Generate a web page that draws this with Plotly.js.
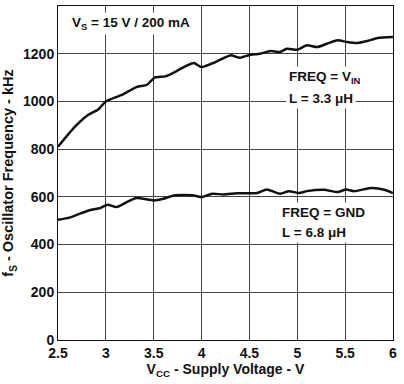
<!DOCTYPE html>
<html>
<head>
<script src="https://cdn.plot.ly/plotly-3.0.1.min.js"></script>
<style>html,body{margin:0;padding:0;background:#fff;}#chart{width:404px;height:384px;}</style>
</head>
<body>
<div id="chart"></div>
<script>
// FREQ = VIN, L = 3.3 uH
var vinX = [2.5, 2.675, 2.81, 2.92, 3.0, 3.16, 3.32, 3.43, 3.51, 3.62, 3.72, 3.85, 3.92, 4.0, 4.12, 4.30, 4.40, 4.51, 4.61, 4.72, 4.82, 4.89, 5.0, 5.10, 5.21, 5.31, 5.42, 5.52, 5.63, 5.73, 5.84, 6.0];
var vinY = [810, 893, 942, 966, 1000, 1026, 1060, 1070, 1100, 1105, 1123, 1151, 1161, 1144, 1161, 1193, 1183, 1196, 1200, 1211, 1207, 1221, 1217, 1235, 1228, 1242, 1256, 1249, 1245, 1253, 1266, 1270];
// FREQ = GND, L = 6.8 uH
var gndX = [2.5, 2.62, 2.73, 2.85, 2.94, 3.02, 3.11, 3.22, 3.32, 3.50, 3.60, 3.71, 3.92, 4.0, 4.11, 4.23, 4.37, 4.58, 4.68, 4.82, 4.91, 5.02, 5.10, 5.28, 5.42, 5.51, 5.59, 5.77, 5.91, 6.0];
var gndY = [504, 513, 530, 546, 553, 567, 557, 578, 595, 585, 592, 606, 606, 599, 613, 610, 615, 616, 631, 613, 624, 616, 624, 630, 620, 631, 624, 637, 630, 616];
var xTicks = [2.5, 3, 3.5, 4, 4.5, 5, 5.5, 6];
var xTickText = ['2.5', '3', '3.5', '4', '4.5', '5', '5.5', '6'];
var yTicks = [0, 200, 400, 600, 800, 1000, 1200, 1400];

var F = 'Liberation Sans, Arial, sans-serif';
var traces = [
  {x: vinX, y: vinY, mode: 'lines', line: {color: '#111', width: 2.5, shape: 'spline', smoothing: 0.6}, hoverinfo: 'none'},
  {x: gndX, y: gndY, mode: 'lines', line: {color: '#111', width: 2.5, shape: 'spline', smoothing: 0.6}, hoverinfo: 'none'}
];
function ann(x, y, t) {
  return {x: x, y: y, xref: 'x', yref: 'y', text: t, showarrow: false, xanchor: 'left', yanchor: 'middle',
    bgcolor: '#fff', borderpad: 2, font: {family: F, size: 13.5, color: '#111', weight: 'bold'}};
}
var layout = {
  width: 404, height: 384,
  margin: {l: 58, r: 11, t: 6, b: 44},
  paper_bgcolor: '#fff', plot_bgcolor: '#fff',
  showlegend: false,
  font: {family: F, size: 14, color: '#111', weight: 'bold'},
  xaxis: {range: [2.5, 6], tickvals: xTicks, ticktext: xTickText, showgrid: true, gridcolor: '#444', gridwidth: 1,
    zeroline: false, showline: true, mirror: true, linecolor: '#111', linewidth: 1, ticks: '', ticklen: 0,
    tickfont: {family: F, size: 14, weight: 'bold'},
    title: {text: 'V<sub>CC</sub> - Supply Voltage - V', font: {family: F, size: 14, weight: 'bold'}, standoff: 3}},
  yaxis: {range: [0, 1400], tickvals: yTicks, showgrid: true, gridcolor: '#444', gridwidth: 1,
    zeroline: false, showline: true, mirror: true, linecolor: '#111', linewidth: 1, ticks: '', ticklen: 0,
    tickfont: {family: F, size: 14, weight: 'bold'},
    title: {text: 'f<sub>S</sub> - Oscillator Frequency - kHz', font: {family: F, size: 14.5, weight: 'bold'}, standoff: 5}},
  annotations: [
    ann(2.62, 1327, 'V<sub>S</sub> = 15 V / 200 mA'),
    ann(4.88, 1101, 'FREQ = V<sub>IN</sub>'),
    ann(4.88, 1013, 'L = 3.3 \u03bcH'),
    ann(4.81, 535, 'FREQ = GND'),
    ann(4.81, 451, 'L = 6.8 \u03bcH')
  ]
};
Plotly.newPlot('chart', traces, layout, {staticPlot: true, displayModeBar: false});
</script>
</body>
</html>
